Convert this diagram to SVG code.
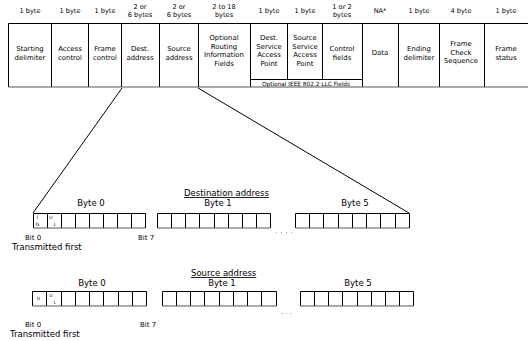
<svg xmlns="http://www.w3.org/2000/svg" width="528" height="341" viewBox="0 0 528 341">
<style>
text{font-family:"DejaVu Sans",Verdana,sans-serif;fill:#000}
.h{font-size:6.6px;text-anchor:middle}
.b{font-size:6.9px;text-anchor:middle}
.s{font-size:4.5px;text-anchor:middle}
.l{font-size:8.5px}
.n{font-size:7px}
.t{font-size:8.5px;text-anchor:middle}
.v{stroke:#000;stroke-width:1;fill:none}
.g{stroke:#555;stroke-width:1.2;fill:none}
</style>
<rect width="528" height="341" fill="#fff"/>
<g id="header-sizes">
<text class="h" x="30" y="13">1 byte</text>
<text class="h" x="70" y="13">1 byte</text>
<text class="h" x="105" y="13">1 byte</text>
<text class="h" x="140" y="9">2 or</text>
<text class="h" x="140" y="17">6 bytes</text>
<text class="h" x="179" y="9">2 or</text>
<text class="h" x="179" y="17">6 bytes</text>
<text class="h" x="224" y="9">2 to 18</text>
<text class="h" x="224" y="17">bytes</text>
<text class="h" x="269" y="13">1 byte</text>
<text class="h" x="305" y="13">1 byte</text>
<text class="h" x="342" y="9">1 or 2</text>
<text class="h" x="342" y="17">bytes</text>
<text class="h" x="380" y="13">NA*</text>
<text class="h" x="419" y="13">1 byte</text>
<text class="h" x="461" y="13">4 byte</text>
<text class="h" x="506" y="13">1 byte</text>
</g>
<g id="frame">
<path class="v" d="M8.5 23.5H528M8.5 23.5V87M51.5 23.5V87M88.5 23.5V87M121.5 23.5V87M159.5 23.5V87M198.5 23.5V87M250.5 23.5V87M287.5 23.5V79M322.5 23.5V79M362.5 23.5V87M398.5 23.5V87M439.5 23.5V87M484.5 23.5V87"/>
<path class="v" d="M250.5 79.5H362.5"/>
<path class="g" d="M8.5 87H528"/>
<text class="b" x="30" y="51">Starting</text>
<text class="b" x="30" y="59.5">delimiter</text>
<text class="b" x="70" y="51">Access</text>
<text class="b" x="70" y="59.5">control</text>
<text class="b" x="105" y="51">Frame</text>
<text class="b" x="105" y="59.5">control</text>
<text class="b" x="140" y="51">Dest.</text>
<text class="b" x="140" y="59.5">address</text>
<text class="b" x="179" y="51">Source</text>
<text class="b" x="179" y="59.5">address</text>
<text class="b" x="224" y="40">Optional</text>
<text class="b" x="224" y="48.5">Routing</text>
<text class="b" x="224" y="57">Information</text>
<text class="b" x="224" y="65.5">Fields</text>
<text class="b" x="269" y="40">Dest.</text>
<text class="b" x="269" y="48.5">Service</text>
<text class="b" x="269" y="57">Access</text>
<text class="b" x="269" y="65.5">Point</text>
<text class="b" x="305" y="40">Source</text>
<text class="b" x="305" y="48.5">Service</text>
<text class="b" x="305" y="57">Access</text>
<text class="b" x="305" y="65.5">Point</text>
<text class="b" x="342" y="51">Control</text>
<text class="b" x="342" y="59.5">fields</text>
<text class="b" x="380" y="55">Data</text>
<text class="b" x="419" y="51">Ending</text>
<text class="b" x="419" y="59.5">delimiter</text>
<text class="b" x="461" y="46">Frame</text>
<text class="b" x="461" y="54.5">Check</text>
<text class="b" x="461" y="63">Sequence</text>
<text class="b" x="506" y="51">Frame</text>
<text class="b" x="506" y="59.5">status</text>
<text class="h" x="306" y="85.5" style="font-size:5.8px">Optional IEEE 802.2 LLC Fields</text>
</g>
<g id="connectors">
<path class="v" d="M122 88L33 213M198 88L409 213"/>
</g>
<g id="dest">
<text class="l" x="184" y="196" text-decoration="underline">Destination address</text>
<text class="t" x="91" y="206">Byte 0</text>
<text class="t" x="218" y="206">Byte 1</text>
<text class="t" x="355" y="206">Byte 5</text>
<path class="v" d="M33.5 213.5H145.5M33.5 213.5V228M47.5 213.5V228M61.5 213.5V228M75.5 213.5V228M89.5 213.5V228M103.5 213.5V228M117.5 213.5V228M131.5 213.5V228M145.5 213.5V228"/>
<path class="g" d="M33.5 228H145.5"/>
<path class="v" d="M157.5 213.5H270.5M157.5 213.5V228M171.5 213.5V228M185.5 213.5V228M199.5 213.5V228M214.5 213.5V228M228.5 213.5V228M242.5 213.5V228M256.5 213.5V228M270.5 213.5V228"/>
<path class="g" d="M157.5 228H270.5"/>
<path class="v" d="M295.5 213.5H409.5M295.5 213.5V228M309.5 213.5V228M323.5 213.5V228M338.5 213.5V228M352.5 213.5V228M366.5 213.5V228M380.5 213.5V228M395.5 213.5V228M409.5 213.5V228"/>
<path class="g" d="M295.5 228H409.5"/>
<path d="M276 232.5H293" stroke="#888" stroke-width="0.8" stroke-dasharray="1 4" fill="none"/>
<text class="s" x="37.5" y="219">I</text>
<text class="s" x="37.5" y="226">G</text>
<text class="s" x="51" y="219">U</text>
<text class="s" x="55" y="226">L</text>
<text class="n" x="25" y="240">Bit 0</text>
<text class="n" x="138" y="240">Bit 7</text>
<text class="l" x="12" y="250">Transmitted first</text>
</g>
<g id="source">
<text class="l" x="191" y="276" text-decoration="underline">Source address</text>
<text class="t" x="92" y="286">Byte 0</text>
<text class="t" x="222" y="286">Byte 1</text>
<text class="t" x="358" y="286">Byte 5</text>
<path class="v" d="M32.5 291.5H146.5M32.5 291.5V306M46.5 291.5V306M61.5 291.5V306M75.5 291.5V306M89.5 291.5V306M103.5 291.5V306M118.5 291.5V306M132.5 291.5V306M146.5 291.5V306"/>
<path class="g" d="M32.5 306H146.5"/>
<path class="v" d="M162.5 291.5H276.5M162.5 291.5V306M176.5 291.5V306M190.5 291.5V306M204.5 291.5V306M219.5 291.5V306M233.5 291.5V306M247.5 291.5V306M261.5 291.5V306M276.5 291.5V306"/>
<path class="g" d="M162.5 306H276.5"/>
<path class="v" d="M300.5 291.5H413.5M300.5 291.5V306M314.5 291.5V306M328.5 291.5V306M342.5 291.5V306M357.5 291.5V306M371.5 291.5V306M385.5 291.5V306M399.5 291.5V306M413.5 291.5V306"/>
<path class="g" d="M300.5 306H413.5"/>
<path d="M282 313.5H294" stroke="#888" stroke-width="0.8" stroke-dasharray="1 3" fill="none"/>
<text class="s" x="38.5" y="300">U</text>
<text class="s" x="51" y="297">U</text>
<text class="s" x="55" y="304">L</text>
<text class="n" x="25" y="327">Bit 0</text>
<text class="n" x="140" y="327">Bit 7</text>
<text class="l" x="10" y="337">Transmitted first</text>
</g>
</svg>
